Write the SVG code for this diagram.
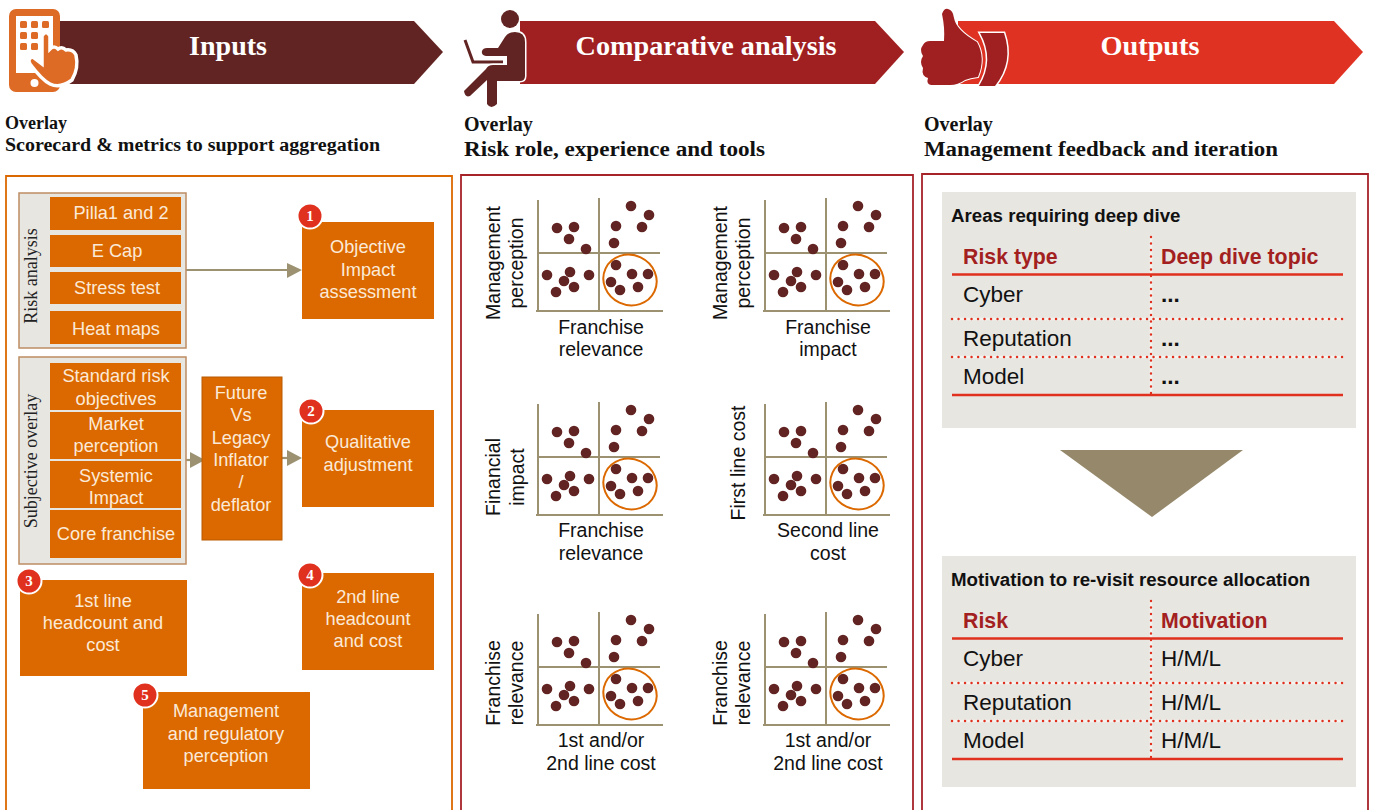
<svg xmlns="http://www.w3.org/2000/svg" xmlns:xlink="http://www.w3.org/1999/xlink" width="1379" height="810" viewBox="0 0 1379 810">
<style>
.h{font-family:"Liberation Serif",serif;font-weight:bold;font-size:28px;fill:#fff;text-anchor:middle}
.o{font-family:"Liberation Serif",serif;font-weight:bold;fill:#111}
.b{fill:#dc6900}
.bt{font-family:"Liberation Sans",sans-serif;font-size:18.200px;fill:#fbe9d8;text-anchor:middle}
.p{fill:#e8e6e1;stroke:#bd8d63;stroke-width:1.5}
.pl{font-family:"Liberation Serif",serif;font-size:18px;fill:#222;text-anchor:middle}
.bd{fill:#e0301e;stroke:#fff;stroke-width:2}
.bn{font-family:"Liberation Serif",serif;font-weight:bold;font-size:15px;fill:#fff;text-anchor:middle}
.ax{font-family:"Liberation Sans",sans-serif;font-size:19.500px;fill:#111;text-anchor:middle}
.t{font-family:"Liberation Sans",sans-serif;font-size:22.500px;fill:#111}
.tb{font-family:"Liberation Sans",sans-serif;font-size:22.500px;font-weight:bold;fill:#111}
.th{font-family:"Liberation Sans",sans-serif;font-size:21.300px;font-weight:bold;fill:#a32020}
.tt{font-family:"Liberation Sans",sans-serif;font-size:18.700px;font-weight:bold;fill:#111}
.solid{stroke:#e0301e;stroke-width:2.5;fill:none}
.dotw{stroke:#f4f3f0;stroke-width:2.500;fill:none}
.dot{stroke:#e0301e;stroke-width:2.400;stroke-linecap:round;stroke-dasharray:0.1 6.400;fill:none}
.con{stroke:#9c9272;stroke-width:2.2;fill:none}
.ah{fill:#9c9272}
.q{stroke:#9c9272;stroke-width:2;fill:none}
.d{fill:#622422}
</style>
<defs>
<g id="chart">
<path class="q" d="M538 200V311M536 311H663M599 198V311M538 253H660"/>
<g class="d">
<circle cx="557" cy="228" r="5.300"/><circle cx="574" cy="227" r="5.300"/><circle cx="569" cy="239" r="5.300"/><circle cx="586" cy="249" r="5.300"/>
<circle cx="631" cy="206" r="5.300"/><circle cx="649" cy="215" r="5.300"/><circle cx="616" cy="226" r="5.300"/><circle cx="642" cy="227" r="5.300"/><circle cx="614" cy="243" r="5.300"/>
<circle cx="616" cy="265" r="5.300"/><circle cx="632" cy="274" r="5.300"/><circle cx="648" cy="274" r="5.300"/><circle cx="611" cy="282" r="5.300"/><circle cx="620" cy="290" r="5.300"/><circle cx="638" cy="287" r="5.300"/>
<circle cx="547" cy="275" r="5.300"/><circle cx="570" cy="272" r="5.300"/><circle cx="564" cy="281" r="5.300"/><circle cx="574" cy="287" r="5.300"/><circle cx="556" cy="292" r="5.300"/><circle cx="589" cy="275" r="5.300"/>
</g>
<ellipse cx="630" cy="280" rx="27" ry="25" fill="none" stroke="#dc6900" stroke-width="2" transform="rotate(25 630 280)"/>
</g>
</defs>

<g id="connectors">
<path class="con" d="M186 270H288"/><polygon class="ah" points="287,263 302,270 287,278"/>
<path class="con" d="M186 460H191"/><polygon class="ah" points="190,452 205,460 190,468"/>
<path class="con" d="M282 458H288"/><polygon class="ah" points="287,450 302,458 287,466"/>
</g>

<g id="header-inputs">
<polygon points="60,21 414,21 443,52 414,84 60,84" fill="#622422"/>
<text class="h" x="228" y="55" textLength="78" lengthAdjust="spacingAndGlyphs">Inputs</text>
<rect x="9" y="9" width="51" height="83" rx="7" fill="#dd6b26"/>
<rect x="16" y="16" width="37" height="57" fill="#fff"/>
<g fill="#dd6b26">
<rect x="20" y="21" width="7" height="7" rx="1.500"/><rect x="31" y="21" width="7" height="7" rx="1.500"/><rect x="42" y="21" width="7" height="7" rx="1.500"/>
<rect x="20" y="32" width="7" height="7" rx="1.500"/><rect x="31" y="32" width="7" height="7" rx="1.500"/>
<rect x="20" y="43" width="7" height="7" rx="1.500"/><rect x="31" y="43" width="7" height="7" rx="1.500"/>
</g>
<circle cx="34.500" cy="83" r="4" fill="#fff"/>
<path d="M42 36Q46 29 50 36V49Q54 45 58 49Q62 46 66 50Q73 49 76 55Q79 68 72 80Q60 89 50 84Q42 80 30 64Q27 58 33 57L42 64Z" fill="#dd6b26" stroke="#fff" stroke-width="3.500"/>
</g>
<g id="header-analysis">
<polygon points="520,21 875,21 904,52 875,84 520,84" fill="#a02022"/>
<text class="h" x="706" y="55" textLength="261" lengthAdjust="spacingAndGlyphs">Comparative analysis</text>
<circle cx="510" cy="19" r="9" fill="#622422"/>
<path d="M465 40L473 62H503" fill="none" stroke="#622422" stroke-width="3"/>
<path d="M515 32Q525 32 525 42V76Q525 81 520 81H497V104Q491 110 487 104V80L470 96Q465 98 464 91L486 69Q488 65 493 65H507V56H486Q481 55 482 51Q483 48 487 48H498L505 37Q508 32 515 32Z" fill="#622422" stroke="#fff" stroke-width="3" paint-order="stroke"/>
</g>
<g id="header-outputs">
<polygon points="958,21 1334,21 1363,52 1334,84 958,84" fill="#e03222"/>
<text class="h" x="1150" y="55" textLength="99" lengthAdjust="spacingAndGlyphs">Outputs</text>
<path d="M942 14Q944 8 948 9Q953 10 954 18Q956 30 977 42Q986 58 978 77Q970 78 965 80Q958 85 950 85H931Q926 84 928 78Q921 76 923 68Q919 62 923 56Q919 50 923 45Q925 41 930 41H944Q945 28 942 14Z" fill="#a02022" stroke="#fff" stroke-width="2" paint-order="stroke"/>
<path d="M980 33H1004Q1014 62 995 86H979Q995 60 980 33Z" fill="#a02022" stroke="#fff" stroke-width="3" paint-order="stroke"/>
</g>

<g id="overlay-texts">
<text class="o" font-size="18" x="5" y="129">Overlay</text>
<text class="o" font-size="18" x="5" y="151" textLength="375" lengthAdjust="spacingAndGlyphs">Scorecard &amp; metrics to support aggregation</text>
<text class="o" font-size="20" x="464" y="131">Overlay</text>
<text class="o" font-size="20" x="464" y="156" textLength="301" lengthAdjust="spacingAndGlyphs">Risk role, experience and tools</text>
<text class="o" font-size="20" x="924" y="131">Overlay</text>
<text class="o" font-size="20" x="924" y="156" textLength="354" lengthAdjust="spacingAndGlyphs">Management feedback and iteration</text>
</g>

<g id="frames" fill="none" stroke-width="1.800">
<path stroke="#dc6900" d="M6 820V176H452V820"/>
<path stroke="#a6232a" d="M461 820V175H913V820"/>
<path stroke="#a6232a" d="M922 820V174H1368V820"/>
</g>

<g id="risk-analysis">
<rect class="p" x="19" y="193" width="167" height="155"/>
<text class="pl" transform="translate(37 276) rotate(-90)">Risk analysis</text>
<rect class="b" x="50" y="197" width="131" height="33"/><text class="bt" x="121" y="219">Pilla1 and 2</text>
<rect class="b" x="50" y="235" width="131" height="32"/><text class="bt" x="117" y="257">E Cap</text>
<rect class="b" x="50" y="272" width="131" height="32"/><text class="bt" x="117" y="294">Stress test</text>
<rect class="b" x="50" y="311" width="131" height="33"/><text class="bt" x="116" y="335">Heat maps</text>
</g>
<g id="subjective-overlay">
<rect class="p" x="19" y="357" width="167" height="207"/>
<text class="pl" transform="translate(37 461) rotate(-90)">Subjective overlay</text>
<rect class="b" x="50" y="363" width="131" height="47"/><text class="bt" x="116" y="382">Standard risk</text><text class="bt" x="116" y="405">objectives</text>
<rect class="b" x="50" y="412" width="131" height="47"/><text class="bt" x="116" y="430">Market</text><text class="bt" x="116" y="452">perception</text>
<rect class="b" x="50" y="461" width="131" height="47"/><text class="bt" x="116" y="482">Systemic</text><text class="bt" x="116" y="504">Impact</text>
<rect class="b" x="50" y="510" width="131" height="48"/><text class="bt" x="116" y="540">Core franchise</text>
</g>
<g id="future-legacy">
<rect class="b" x="202" y="377" width="80" height="163" stroke="#b85a00" stroke-width="1"/>
<text class="bt" x="241" y="399">Future</text><text class="bt" x="241" y="421">Vs</text><text class="bt" x="241" y="444">Legacy</text><text class="bt" x="241" y="466">Inflator</text><text class="bt" x="241" y="488">/</text><text class="bt" x="241" y="511">deflator</text>
</g>
<g id="n1">
<rect class="b" x="302" y="222" width="132" height="97"/>
<text class="bt" x="368" y="253">Objective</text><text class="bt" x="368" y="276">Impact</text><text class="bt" x="368" y="298">assessment</text>
<circle class="bd" cx="310" cy="216" r="12.500"/><text class="bn" x="310" y="221">1</text>
</g>
<g id="n2">
<rect class="b" x="302" y="410" width="132" height="97"/>
<text class="bt" x="368" y="448">Qualitative</text><text class="bt" x="368" y="471">adjustment</text>
<circle class="bd" cx="311" cy="411" r="12.500"/><text class="bn" x="311" y="416">2</text>
</g>
<g id="n3">
<rect class="b" x="20" y="580" width="167" height="96"/>
<text class="bt" x="103" y="607">1st line</text><text class="bt" x="103" y="629">headcount and</text><text class="bt" x="103" y="651">cost</text>
<circle class="bd" cx="29" cy="581" r="12.500"/><text class="bn" x="29" y="586">3</text>
</g>
<g id="n4">
<rect class="b" x="302" y="573" width="132" height="97"/>
<text class="bt" x="368" y="603">2nd line</text><text class="bt" x="368" y="625">headcount</text><text class="bt" x="368" y="647">and cost</text>
<circle class="bd" cx="310" cy="575" r="12.500"/><text class="bn" x="310" y="580">4</text>
</g>
<g id="n5">
<rect class="b" x="143" y="692" width="167" height="97"/>
<text class="bt" x="226" y="717">Management</text><text class="bt" x="226" y="740">and regulatory</text><text class="bt" x="226" y="762">perception</text>
<circle class="bd" cx="145" cy="695" r="12.500"/><text class="bn" x="145" y="700">5</text>
</g>

<g id="chart1"><use xlink:href="#chart" href="#chart"/>
<text class="ax" transform="translate(500 263) rotate(-90)">Management</text><text class="ax" transform="translate(523 263) rotate(-90)">perception</text>
<text class="ax" x="601" y="334">Franchise</text><text class="ax" x="601" y="356">relevance</text></g>
<g id="chart2"><use xlink:href="#chart" href="#chart" transform="translate(227 0)"/>
<text class="ax" transform="translate(727 263) rotate(-90)">Management</text><text class="ax" transform="translate(750 263) rotate(-90)">perception</text>
<text class="ax" x="828" y="334">Franchise</text><text class="ax" x="828" y="356">impact</text></g>
<g id="chart3"><use xlink:href="#chart" href="#chart" transform="translate(0 204)"/>
<text class="ax" transform="translate(500 477) rotate(-90)">Financial</text><text class="ax" transform="translate(524 477) rotate(-90)">impact</text>
<text class="ax" x="601" y="537">Franchise</text><text class="ax" x="601" y="560">relevance</text></g>
<g id="chart4"><use xlink:href="#chart" href="#chart" transform="translate(227 204)"/>
<text class="ax" transform="translate(745 463) rotate(-90)">First line cost</text>
<text class="ax" x="828" y="537">Second line</text><text class="ax" x="828" y="560">cost</text></g>
<g id="chart5"><use xlink:href="#chart" href="#chart" transform="translate(0 414)"/>
<text class="ax" transform="translate(500 683) rotate(-90)">Franchise</text><text class="ax" transform="translate(523 683) rotate(-90)">relevance</text>
<text class="ax" x="601" y="747">1st and/or</text><text class="ax" x="601" y="770">2nd line cost</text></g>
<g id="chart6"><use xlink:href="#chart" href="#chart" transform="translate(227 414)"/>
<text class="ax" transform="translate(727 683) rotate(-90)">Franchise</text><text class="ax" transform="translate(750 683) rotate(-90)">relevance</text>
<text class="ax" x="828" y="747">1st and/or</text><text class="ax" x="828" y="770">2nd line cost</text></g>

<g id="table-deep-dive">
<rect x="942" y="192" width="414" height="236" fill="#e8e6e1"/>
<text class="tt" x="951" y="222">Areas requiring deep dive</text>
<text class="th" x="963" y="264">Risk type</text><text class="th" x="1161" y="264">Deep dive topic</text>
<path class="dotw" d="M952 319H1343M952 357H1343M1151 237V395"/>
<path class="solid" d="M952 274.500H1343M952 395H1343"/>
<path class="dot" d="M952 319H1343M952 357H1343M1151 237V395"/>
<text class="t" x="963" y="302">Cyber</text><text class="tb" x="1161" y="302">...</text>
<text class="t" x="963" y="346">Reputation</text><text class="tb" x="1161" y="346">...</text>
<text class="t" x="963" y="384">Model</text><text class="tb" x="1161" y="384">...</text>
</g>
<g id="down-arrow"><polygon points="1060,450 1243,450 1152,517" fill="#96896b"/></g>
<g id="table-motivation">
<rect x="942" y="556" width="414" height="231" fill="#e8e6e1"/>
<text class="tt" x="951" y="586">Motivation to re-visit resource allocation</text>
<text class="th" x="963" y="628">Risk</text><text class="th" x="1161" y="628">Motivation</text>
<path class="dotw" d="M952 683H1343M952 721H1343M1151 601V759"/>
<path class="solid" d="M952 638.500H1343M952 759H1343"/>
<path class="dot" d="M952 683H1343M952 721H1343M1151 601V759"/>
<text class="t" x="963" y="666">Cyber</text><text class="t" x="1161" y="666">H/M/L</text>
<text class="t" x="963" y="710">Reputation</text><text class="t" x="1161" y="710">H/M/L</text>
<text class="t" x="963" y="748">Model</text><text class="t" x="1161" y="748">H/M/L</text>
</g>
</svg>
